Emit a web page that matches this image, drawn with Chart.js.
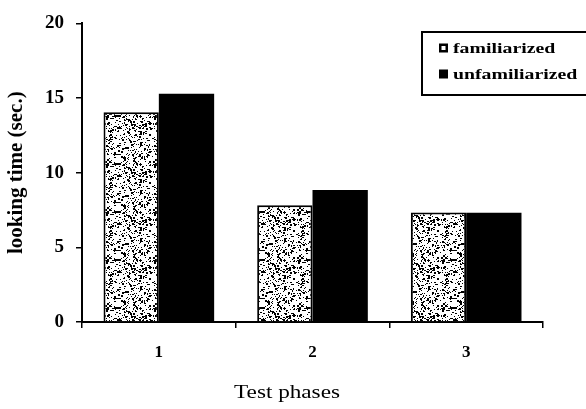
<!DOCTYPE html>
<html>
<head>
<meta charset="utf-8">
<script src="https://cdn.jsdelivr.net/npm/chart.js@4.4.1/dist/chart.umd.min.js"></script>
<style>
  html, body { margin: 0; padding: 0; background: #fff; }
  #wrap { width: 586px; height: 409px; }
</style>
</head>
<body>
<div id="wrap"><canvas id="myChart"></canvas></div>
<script>
// data
const phases = ['1', '2', '3'];
const familiarized = [14.05, 7.82, 7.34];
const unfamiliarized = [15.29, 8.84, 7.32];
const seriesNames = ['familiarized', 'unfamiliarized'];
const yTicks = [0, 5, 10, 15, 20];
const xTitle = 'Test phases';
const yTitle = 'looking time (sec.)';

// speckled fill for the familiarized bars (fixed seed, only a texture)
function speckle() {
  const c = document.createElement('canvas');
  c.width = 48; c.height = 48;
  const g = c.getContext('2d');
  g.fillStyle = '#fff';
  g.fillRect(0, 0, 48, 48);
  g.fillStyle = '#000';
  let s = 12345;
  function next() { s = (s * 1103515245 + 12345) % 2147483648; return s / 2147483648; }
  for (let i = 0; i < 420; i++) {
    const x = Math.floor(next() * 48), y = Math.floor(next() * 48);
    const r = next();
    g.fillRect(x, y, r < 0.7 ? 1 : 2, r < 0.85 ? 1 : 2);
  }
  return g.createPattern(c, 'repeat');
}

const serif = "'Liberation Serif', 'Times New Roman', serif";

// the scanned text is wide, so stretch it a bit sideways
function wideText(ctx, txt, x, y, stretch, align) {
  ctx.save();
  ctx.translate(x, y);
  ctx.scale(stretch, 1);
  ctx.textAlign = align;
  ctx.fillText(txt, 0, 0);
  ctx.restore();
}

// legend box top right + x title, drawn by hand
const extras = {
  id: 'extras',
  afterDraw(chart) {
    const ctx = chart.ctx;
    ctx.save();
    ctx.strokeStyle = '#000';
    ctx.lineWidth = 2;
    ctx.strokeRect(422, 32, 180, 63);
    ctx.font = 'bold 15px ' + serif;
    ctx.textBaseline = 'middle';
    chart.data.datasets.forEach((ds, i) => {
      const y = 48 + i * 26;
      ctx.fillStyle = '#000';
      ctx.fillRect(439, y - 4.5, 9, 9);
      if (i === 0) {
        ctx.fillStyle = '#fff';
        ctx.fillRect(441.5, y - 2, 4, 4);
      }
      ctx.fillStyle = '#000';
      wideText(ctx, ds.label, 453, y + 1, 1.32, 'left');
    });

    ctx.font = '19px ' + serif;
    ctx.textBaseline = 'alphabetic';
    wideText(ctx, xTitle, 287, 398, 1.22, 'center');
    ctx.restore();
  }
};

window.onload = function () {
  const chartData = {
    labels: phases,
    datasets: [
      {
        label: seriesNames[0],
        data: familiarized,
        backgroundColor: speckle(),
        borderColor: '#000',
        borderWidth: 2,
      },
      {
        label: seriesNames[1],
        data: unfamiliarized,
        backgroundColor: '#000',
        borderColor: '#000',
        borderWidth: 0,
      },
    ],
  };

  new Chart(document.getElementById('myChart'), {
    type: 'bar',
    data: chartData,
    options: {
      responsive: true,
      maintainAspectRatio: false,
      animation: false,
      categoryPercentage: 0.72,
      barPercentage: 1.0,
      layout: { padding: { top: 14, right: 43, left: 0, bottom: 0 } },
      plugins: {
        legend: { display: false },
        tooltip: { enabled: false },
      },
      scales: {
        x: {
          afterFit: s => { s.height = 87; },
          grid: {
            offset: true,
            drawOnChartArea: false,
            drawTicks: true,
            tickLength: 6,
            color: '#000',
            lineWidth: 1.5,
          },
          border: { display: true, color: '#000', width: 2 },
          ticks: {
            color: '#000',
            padding: 14,
            font: { family: serif, size: 17, weight: 'bold' },
          },
        },
        y: {
          min: 0,
          max: 20,
          afterFit: s => { s.width = 82; },
          afterBuildTicks: s => { s.ticks = yTicks.map(v => ({ value: v })); },
          grid: {
            drawOnChartArea: false,
            drawTicks: true,
            tickLength: 6,
            color: '#000',
            lineWidth: 1.5,
          },
          border: { display: true, color: '#000', width: 2 },
          ticks: {
            color: '#000',
            padding: 12,
            font: { family: serif, size: 19, weight: 'bold' },
          },
          title: {
            display: true,
            text: yTitle,
            color: '#000',
            padding: { top: 4, bottom: 0 },
            font: { family: serif, size: 21, weight: 'bold' },
          },
        },
      },
    },
    plugins: [extras],
  });
};
</script>
</body>
</html>
